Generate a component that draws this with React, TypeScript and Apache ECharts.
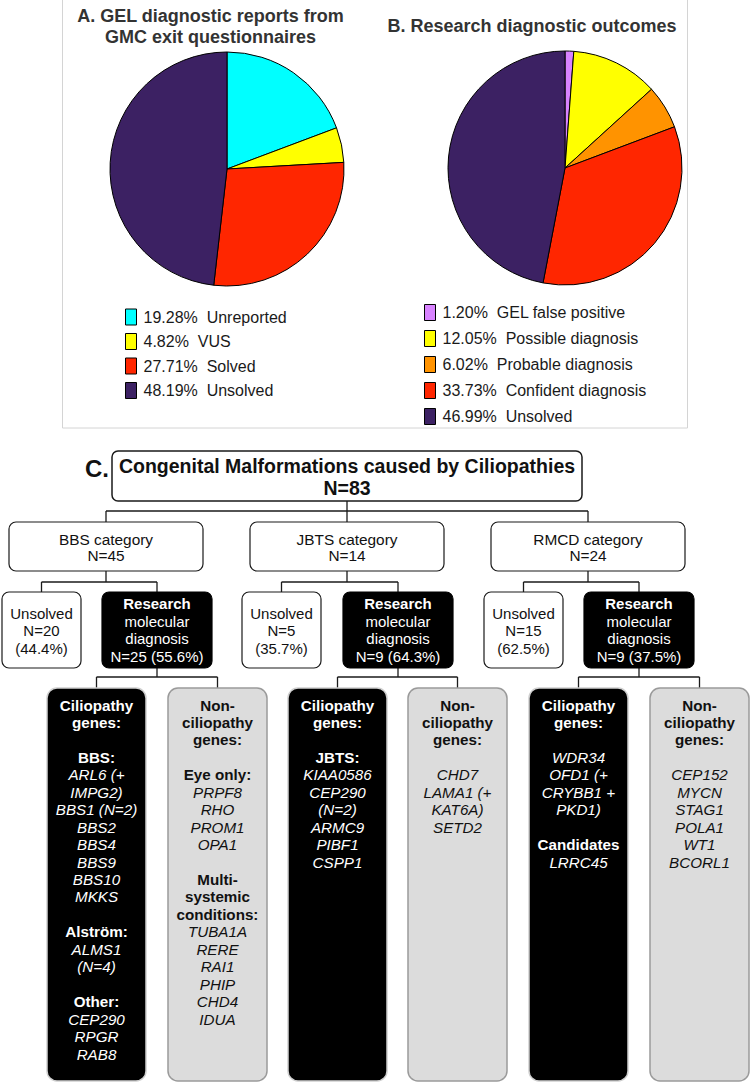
import React, { useEffect, useRef } from 'react';
import * as echarts from 'echarts';

// ---------- Data ----------
const pieANames = ['Unreported', 'VUS', 'Solved', 'Unsolved'];
const pieAValues = [19.28, 4.82, 27.71, 48.19];
const pieAColors = ['#00FFFF', '#FFFF00', '#FF2600', '#3C2163'];

const pieBNames = ['GEL false positive', 'Possible diagnosis', 'Probable diagnosis', 'Confident diagnosis', 'Unsolved'];
const pieBValues = [1.2, 12.05, 6.02, 33.73, 46.99];
const pieBColors = ['#D883FF', '#FFFF00', '#FF9300', '#FF2600', '#3C2163'];

const titleA = ['A. GEL diagnostic reports from', 'GMC exit questionnaires'];
const titleB = 'B. Research diagnostic outcomes';

const rootTitle = 'Congenital Malformations caused by Ciliopathies';
const rootN = 83;
const categoryNames = ['BBS category', 'JBTS category', 'RMCD category'];
const categoryN = [45, 14, 24];
const unsolvedN = [20, 5, 15];
const unsolvedPct = ['44.4', '35.7', '62.5'];
const researchN = [25, 9, 9];
const researchPct = ['55.6', '64.3', '37.5'];

// "b:" bold heading, "i:" italic gene, "" blank line
const ciliopathyGenes = [
  ['b:Ciliopathy', 'b:genes:', '', 'b:BBS:', 'i:ARL6 (+', 'i:IMPG2)', 'i:BBS1 (N=2)', 'i:BBS2', 'i:BBS4', 'i:BBS9', 'i:BBS10', 'i:MKKS', '', 'b:Alström:', 'i:ALMS1', 'i:(N=4)', '', 'b:Other:', 'i:CEP290', 'i:RPGR', 'i:RAB8'],
  ['b:Ciliopathy', 'b:genes:', '', 'b:JBTS:', 'i:KIAA0586', 'i:CEP290', 'i:(N=2)', 'i:ARMC9', 'i:PIBF1', 'i:CSPP1'],
  ['b:Ciliopathy', 'b:genes:', '', 'i:WDR34', 'i:OFD1 (+', 'i:CRYBB1 +', 'i:PKD1)', '', 'b:Candidates', 'i:LRRC45'],
];
const nonCiliopathyGenes = [
  ['b:Non-', 'b:ciliopathy', 'b:genes:', '', 'b:Eye only:', 'i:PRPF8', 'i:RHO', 'i:PROM1', 'i:OPA1', '', 'b:Multi-', 'b:systemic', 'b:conditions:', 'i:TUBA1A', 'i:RERE', 'i:RAI1', 'i:PHIP', 'i:CHD4', 'i:IDUA'],
  ['b:Non-', 'b:ciliopathy', 'b:genes:', '', 'i:CHD7', 'i:LAMA1 (+', 'i:KAT6A)', 'i:SETD2'],
  ['b:Non-', 'b:ciliopathy', 'b:genes:', '', 'i:CEP152', 'i:MYCN', 'i:STAG1', 'i:POLA1', 'i:WT1', 'i:BCORL1'],
];

// ---------- Helpers ----------
const FONT = 'Liberation Sans, Arial, Helvetica, sans-serif';

function txt(x: number, y: number, text: string, o: any = {}) {
  const align = o.align || 'center';
  return {
    type: 'text',
    x,
    y,
    z: 20,
    silent: true,
    style: {
      text,
      fill: o.color || '#111',
      fontSize: o.size || 15,
      fontWeight: o.bold ? 'bold' : 'normal',
      fontStyle: o.italic ? 'italic' : 'normal',
      fontFamily: FONT,
      align,
      verticalAlign: 'middle',
      textAlign: align,
      textVerticalAlign: 'middle',
    },
  };
}

function box(x: number, y: number, w: number, h: number, r: number, fill: string, stroke: string, lw: number) {
  return {
    type: 'rect',
    z: 10,
    silent: true,
    shape: { x, y, width: w, height: h, r },
    style: { fill, stroke, lineWidth: lw },
  };
}

function seg(x1: number, y1: number, x2: number, y2: number) {
  return {
    type: 'line',
    z: 5,
    silent: true,
    shape: { x1, y1, x2, y2 },
    style: { stroke: '#1a1a1a', lineWidth: 1.3 },
  };
}

function buildGraphics() {
  const g: any[] = [];
  // frame around panels A and B
  g.push({ type: 'rect', z: 1, silent: true, shape: { x: 62.5, y: -3, width: 625, height: 431 }, style: { fill: 'none', stroke: '#d4d4d4', lineWidth: 1 } });
  // titles
  g.push(txt(210.5, 16, titleA[0], { bold: true, size: 18, color: '#333' }));
  g.push(txt(210.5, 36.5, titleA[1], { bold: true, size: 18, color: '#333' }));
  g.push(txt(532, 26, titleB, { bold: true, size: 18, color: '#333' }));

  // Panel C
  g.push(txt(85, 468, 'C.', { bold: true, size: 24, align: 'left', color: '#111' }));
  const rootX = 112, rootW = 470;
  g.push(box(rootX, 451, rootW, 50, 6, '#fff', '#1a1a1a', 1.5));
  g.push(txt(rootX + rootW / 2, 465.5, rootTitle, { bold: true, size: 19.5 }));
  g.push(txt(rootX + rootW / 2, 488, 'N=' + rootN, { bold: true, size: 19.5 }));

  const catX = [9, 250, 491];
  const catW = 194;
  const unsX = [2, 242, 484];
  const unsW = 79;
  const resX = [102, 343, 584];
  const resW = 110;
  const cilX = [47, 288, 529];
  const nonX = [168, 408, 650];
  const l4W = 99;

  // root -> categories
  const catC = catX.map((x) => x + catW / 2);
  g.push(seg(rootX + rootW / 2, 501, rootX + rootW / 2, 511));
  g.push(seg(catC[0], 511, catC[2], 511));

  for (let i = 0; i < 3; i++) {
    const cc = catC[i];
    g.push(seg(cc, 511, cc, 522));
    g.push(box(catX[i], 522, catW, 49, 7, '#fff', '#1a1a1a', 1.2));
    g.push(txt(cc, 539, categoryNames[i], { size: 15.4 }));
    g.push(txt(cc, 555.5, 'N=' + categoryN[i], { size: 15.4 }));

    const uc = unsX[i] + unsW / 2;
    const rc = resX[i] + resW / 2;
    g.push(seg(cc, 571, cc, 582));
    g.push(seg(uc, 582, rc, 582));
    g.push(seg(uc, 582, uc, 592));
    g.push(seg(rc, 582, rc, 592));

    g.push(box(unsX[i], 592, unsW, 76, 7, '#fff', '#1a1a1a', 1.2));
    ['Unsolved', 'N=' + unsolvedN[i], '(' + unsolvedPct[i] + '%)'].forEach((t, k) => {
      g.push(txt(uc, 613 + 17.5 * k, t, { size: 15 }));
    });
    g.push(box(resX[i], 592, resW, 76, 7, '#000', '#000', 1.2));
    ['Research', 'molecular', 'diagnosis', 'N=' + researchN[i] + ' (' + researchPct[i] + '%)'].forEach((t, k) => {
      g.push(txt(rc, 603.5 + 17.7 * k, t, { size: 15, color: '#fff', bold: k === 0 }));
    });

    const cc4 = cilX[i] + l4W / 2;
    const nc4 = nonX[i] + l4W / 2;
    g.push(seg(rc, 668, rc, 677));
    g.push(seg(cc4, 677, nc4, 677));
    g.push(seg(cc4, 677, cc4, 688));
    g.push(seg(nc4, 677, nc4, 688));

    g.push(box(cilX[i], 688, l4W, 393, 10, '#000', '#cfcfcf', 1.5));
    g.push(box(nonX[i], 688, l4W, 393, 10, '#DCDCDC', '#9a9a9a', 1.5));

    const drawLines = (lines: string[], cx: number, color: string) => {
      lines.forEach((l, k) => {
        if (!l) return;
        const bold = l.startsWith('b:');
        const italic = l.startsWith('i:');
        g.push(txt(cx, 705 + 17.45 * k, l.slice(2), { size: 15.2, bold, italic, color }));
      });
    };
    drawLines(ciliopathyGenes[i], cc4, '#fff');
    drawLines(nonCiliopathyGenes[i], nc4, '#111');
  }
  return g;
}

function legendFor(names: string[], values: number[], left: number, top: number, gap: number) {
  return {
    orient: 'vertical',
    left,
    top,
    padding: 0,
    itemWidth: 11,
    itemHeight: 16,
    itemGap: gap,
    icon: 'rect',
    selectedMode: false,
    data: names,
    itemStyle: { borderColor: '#000', borderWidth: 1 },
    textStyle: { fontSize: 16, lineHeight: 16, color: '#1a1a1a', fontFamily: FONT, padding: [0, 0, 0, 2] },
    formatter: (name: string) => values[names.indexOf(name)].toFixed(2) + '%  ' + name,
  };
}

export default function App() {
  const ref = useRef<HTMLDivElement>(null);
  useEffect(() => {
    document.body.style.margin = '0';
    const chart = echarts.init(ref.current as HTMLDivElement, undefined, { renderer: 'svg' });
    const pieCommon = {
      type: 'pie',
      radius: 117,
      startAngle: 90,
      clockwise: true,
      silent: true,
      label: { show: false },
      labelLine: { show: false },
      itemStyle: { borderColor: '#000', borderWidth: 1 },
    };
    chart.setOption({
      animation: false,
      backgroundColor: '#fff',
      legend: [
        legendFor(pieANames, pieAValues, 125, 308.5, 7.5),
        legendFor(pieBNames, pieBValues, 424, 304, 9),
      ],
      series: [
        {
          ...pieCommon,
          name: 'A',
          center: [227, 169],
          data: pieANames.map((n, i) => ({ name: n, value: pieAValues[i], itemStyle: { color: pieAColors[i] } })),
        },
        {
          ...pieCommon,
          name: 'B',
          center: [565, 168],
          data: pieBNames.map((n, i) => ({ name: n, value: pieBValues[i], itemStyle: { color: pieBColors[i] } })),
        },
      ],
      graphic: { elements: buildGraphics() },
    });
    return () => chart.dispose();
  }, []);
  return <div ref={ref} style={{ position: 'absolute', left: 0, top: 0, width: 750, height: 1083, background: '#fff' }} />;
}
